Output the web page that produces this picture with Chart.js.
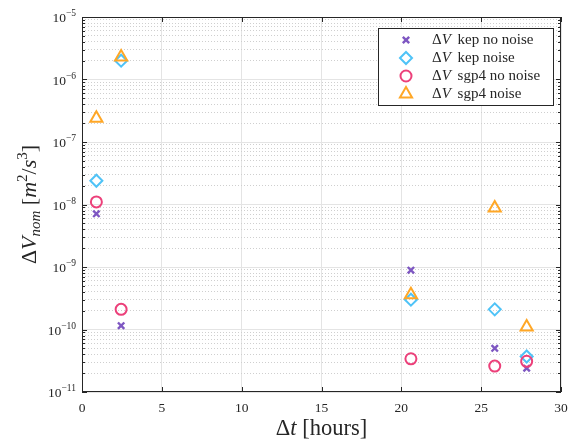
<!DOCTYPE html>
<html>
<head>
<meta charset="utf-8">
<script src="https://cdn.jsdelivr.net/npm/chart.js@4/dist/chart.umd.min.js"></script>
<style>
  html, body { margin: 0; padding: 0; background: #fff; }
  #wrap { width: 570px; height: 442px; }
</style>
</head>
<body>
<div id="wrap"><canvas id="myChart" width="570" height="442"></canvas></div>
<script>
// data
const hours = [0.9, 2.45, 20.6, 25.85, 27.85];
const kepNoNoise = [7.1e-9, 1.15e-10, 8.9e-10, 5.0e-11, 2.4e-11];
const kepNoise = [2.4e-8, 2.0e-6, 3.0e-10, 2.1e-10, 3.7e-11];
const sgp4NoNoise = [1.1e-8, 2.1e-10, 3.4e-11, 2.6e-11, 3.1e-11];
const sgp4Noise = [2.4e-7, 2.3e-6, 3.6e-10, 8.8e-9, 1.1e-10];
const seriesNames = ['kep no noise', 'kep noise', 'sgp4 no noise', 'sgp4 noise'];
const xTicks = [0, 5, 10, 15, 20, 25, 30];
const decades = [-11, -10, -9, -8, -7, -6, -5];

const FONT = '"Liberation Serif", "DejaVu Serif", serif';

function pts(ys) {
  return ys.map(function (y, i) { return { x: hours[i], y: y }; });
}

function minorValues() {
  let out = [];
  for (let e = -11; e < -5; e++) {
    for (let k = 2; k <= 9; k++) out.push({ value: k * Math.pow(10, e) });
  }
  return out;
}

// draw a row of text runs (normal / italic / super / sub) centred on cx,cy
function drawRuns(ctx, runs, cx, cy, rot) {
  ctx.save();
  ctx.translate(cx, cy);
  if (rot) ctx.rotate(rot);
  ctx.textBaseline = 'alphabetic';
  ctx.textAlign = 'left';
  let total = 0;
  runs.forEach(function (r) {
    ctx.font = (r.it ? 'italic ' : '') + r.size + 'px ' + FONT;
    r.w = ctx.measureText(r.t).width;
    total += r.w;
  });
  let x = -total / 2;
  runs.forEach(function (r) {
    ctx.font = (r.it ? 'italic ' : '') + r.size + 'px ' + FONT;
    ctx.fillText(r.t, x, r.dy || 0);
    x += r.w;
  });
  ctx.restore();
}

const framePlugin = {
  id: 'frame',
  afterDraw: function (chart) {
    const ctx = chart.ctx;
    const a = chart.chartArea;
    const xs = chart.scales.x, ys = chart.scales.y;
    ctx.save();
    ctx.strokeStyle = '#262626';
    ctx.lineWidth = 1;
    ctx.strokeRect(a.left + 0.5, a.top + 0.5, a.right - a.left - 1, a.bottom - a.top - 1);
    // inward ticks
    ctx.beginPath();
    xTicks.forEach(function (v) {
      const px = Math.round(xs.getPixelForValue(v)) + 0.5;
      ctx.moveTo(px, a.bottom); ctx.lineTo(px, a.bottom - 5);
      ctx.moveTo(px, a.top); ctx.lineTo(px, a.top + 5);
    });
    decades.forEach(function (e) {
      const py = Math.round(ys.getPixelForValue(Math.pow(10, e))) + 0.5;
      ctx.moveTo(a.left, py); ctx.lineTo(a.left + 5, py);
      ctx.moveTo(a.right, py); ctx.lineTo(a.right - 5, py);
    });
    minorValues().forEach(function (t) {
      const py = Math.round(ys.getPixelForValue(t.value)) + 0.5;
      ctx.moveTo(a.left, py); ctx.lineTo(a.left + 3, py);
      ctx.moveTo(a.right, py); ctx.lineTo(a.right - 3, py);
    });
    ctx.stroke();

    // y tick labels 10^e
    ctx.fillStyle = '#262626';
    decades.forEach(function (e) {
      const py = ys.getPixelForValue(Math.pow(10, e));
      ctx.font = '9.5px ' + FONT;
      const ew = ctx.measureText('\u2212' + Math.abs(e)).width;
      ctx.textAlign = 'left';
      ctx.textBaseline = 'alphabetic';
      ctx.fillText('\u2212' + Math.abs(e), a.left - 6 - ew, py - 1);
      ctx.font = '13.5px ' + FONT;
      const bw = ctx.measureText('10').width;
      ctx.fillText('10', a.left - 6 - ew - bw, py + 5);
    });

    // axis titles
    ctx.fillStyle = '#262626';
    drawRuns(ctx, [
      { t: '\u0394', size: 22.5 },
      { t: 't', size: 22.5, it: true },
      { t: ' [hours]', size: 22.5 }
    ], (a.left + a.right) / 2, 435, 0);
    drawRuns(ctx, [
      { t: '\u0394', size: 22 },
      { t: 'V', size: 22, it: true },
      { t: 'nom', size: 15, it: true, dy: 4 },
      { t: ' [', size: 22 },
      { t: 'm', size: 22, it: true },
      { t: '2', size: 15, dy: -9 },
      { t: '/', size: 22 },
      { t: 's', size: 22, it: true },
      { t: '3', size: 15, dy: -9 },
      { t: ']', size: 22 }
    ], 36, (a.top + a.bottom) / 2, -Math.PI / 2);
    ctx.restore();
  },
  afterDatasetsDraw: function (chart) {
    // legend box inside the axes
    const ctx = chart.ctx;
    const bx = 378, by = 28, bw = 175, bh = 77;
    ctx.save();
    ctx.fillStyle = '#fff';
    ctx.fillRect(bx, by, bw, bh);
    ctx.strokeStyle = '#262626';
    ctx.lineWidth = 1;
    ctx.strokeRect(bx + 0.5, by + 0.5, bw, bh);
    chart.data.datasets.forEach(function (ds, i) {
      const y = by + 12 + i * 18;
      ctx.strokeStyle = ds.borderColor;
      ctx.fillStyle = 'rgba(0,0,0,0)';
      ctx.lineWidth = ds.borderWidth;
      Chart.helpers.drawPoint(ctx, {
        pointStyle: ds.pointStyle, radius: ds.pointRadius, rotation: 0, borderWidth: ds.borderWidth
      }, bx + 28, y);
      ctx.fillStyle = '#262626';
      ctx.textBaseline = 'middle';
      ctx.textAlign = 'left';
      ctx.font = '15px ' + FONT;
      let x = bx + 54;
      ctx.fillText('\u0394', x, y);
      x += ctx.measureText('\u0394').width;
      ctx.font = 'italic 15px ' + FONT;
      ctx.fillText('V', x, y);
      x += ctx.measureText('V ').width + 3;
      ctx.font = '15px ' + FONT;
      ctx.fillText(seriesNames[i], x, y);
    });
    ctx.restore();
  }
};

const ctx = document.getElementById('myChart').getContext('2d');
const chart = new Chart(ctx, {
  type: 'scatter',
  data: {
    datasets: [
      { label: seriesNames[0], data: pts(kepNoNoise), pointStyle: 'crossRot', pointRadius: 4.5, borderWidth: 2.4, borderColor: '#7E57C2', backgroundColor: 'rgba(0,0,0,0)', order: 3 },
      { label: seriesNames[1], data: pts(kepNoise), pointStyle: 'rectRot', pointRadius: 6, borderWidth: 2, borderColor: '#4FC3F7', backgroundColor: 'rgba(0,0,0,0)', order: 2 },
      { label: seriesNames[2], data: pts(sgp4NoNoise), pointStyle: 'circle', pointRadius: 5.5, borderWidth: 2, borderColor: '#EC407A', backgroundColor: 'rgba(0,0,0,0)', order: 1 },
      { label: seriesNames[3], data: pts(sgp4Noise), pointStyle: 'triangle', pointRadius: 7, borderWidth: 2, borderColor: '#FFA726', backgroundColor: 'rgba(0,0,0,0)', order: 0 }
    ]
  },
  options: {
    responsive: false,
    animation: false,
    events: [],
    layout: { padding: { top: 17, right: 8, left: 0, bottom: 0 } },
    plugins: { legend: { display: false }, tooltip: { enabled: false } },
    scales: {
      x: {
        type: 'linear', min: 0, max: 30,
        afterBuildTicks: function (s) { s.ticks = xTicks.map(function (v) { return { value: v }; }); },
        afterFit: function (s) { s.height = 50; s.paddingRight = 0; s.paddingLeft = 0; },
        grid: { color: '#e4e4e4', lineWidth: 1, drawTicks: false },
        border: { display: false },
        ticks: { padding: 8, color: '#262626', font: { family: FONT, size: 13.5 } }
      },
      yMinor: {
        type: 'logarithmic', position: 'left', min: 1e-11, max: 1e-5,
        afterBuildTicks: function (s) { s.ticks = minorValues(); },
        afterFit: function (s) { s.width = 0; s.paddingTop = 0; s.paddingBottom = 0; },
        grid: { color: '#cfcfcf', lineWidth: 1, drawTicks: false },
        border: { display: false, dash: [1, 2] },
        ticks: { display: false }
      },
      y: {
        type: 'logarithmic', position: 'left', min: 1e-11, max: 1e-5,
        afterBuildTicks: function (s) { s.ticks = decades.map(function (e) { return { value: Math.pow(10, e) }; }); },
        afterFit: function (s) { s.width = 82; s.paddingTop = 0; s.paddingBottom = 0; },
        grid: { color: '#e4e4e4', lineWidth: 1, drawTicks: false },
        border: { display: false },
        ticks: { display: false }
      }
    }
  },
  plugins: [framePlugin]
});
</script>
</body>
</html>
